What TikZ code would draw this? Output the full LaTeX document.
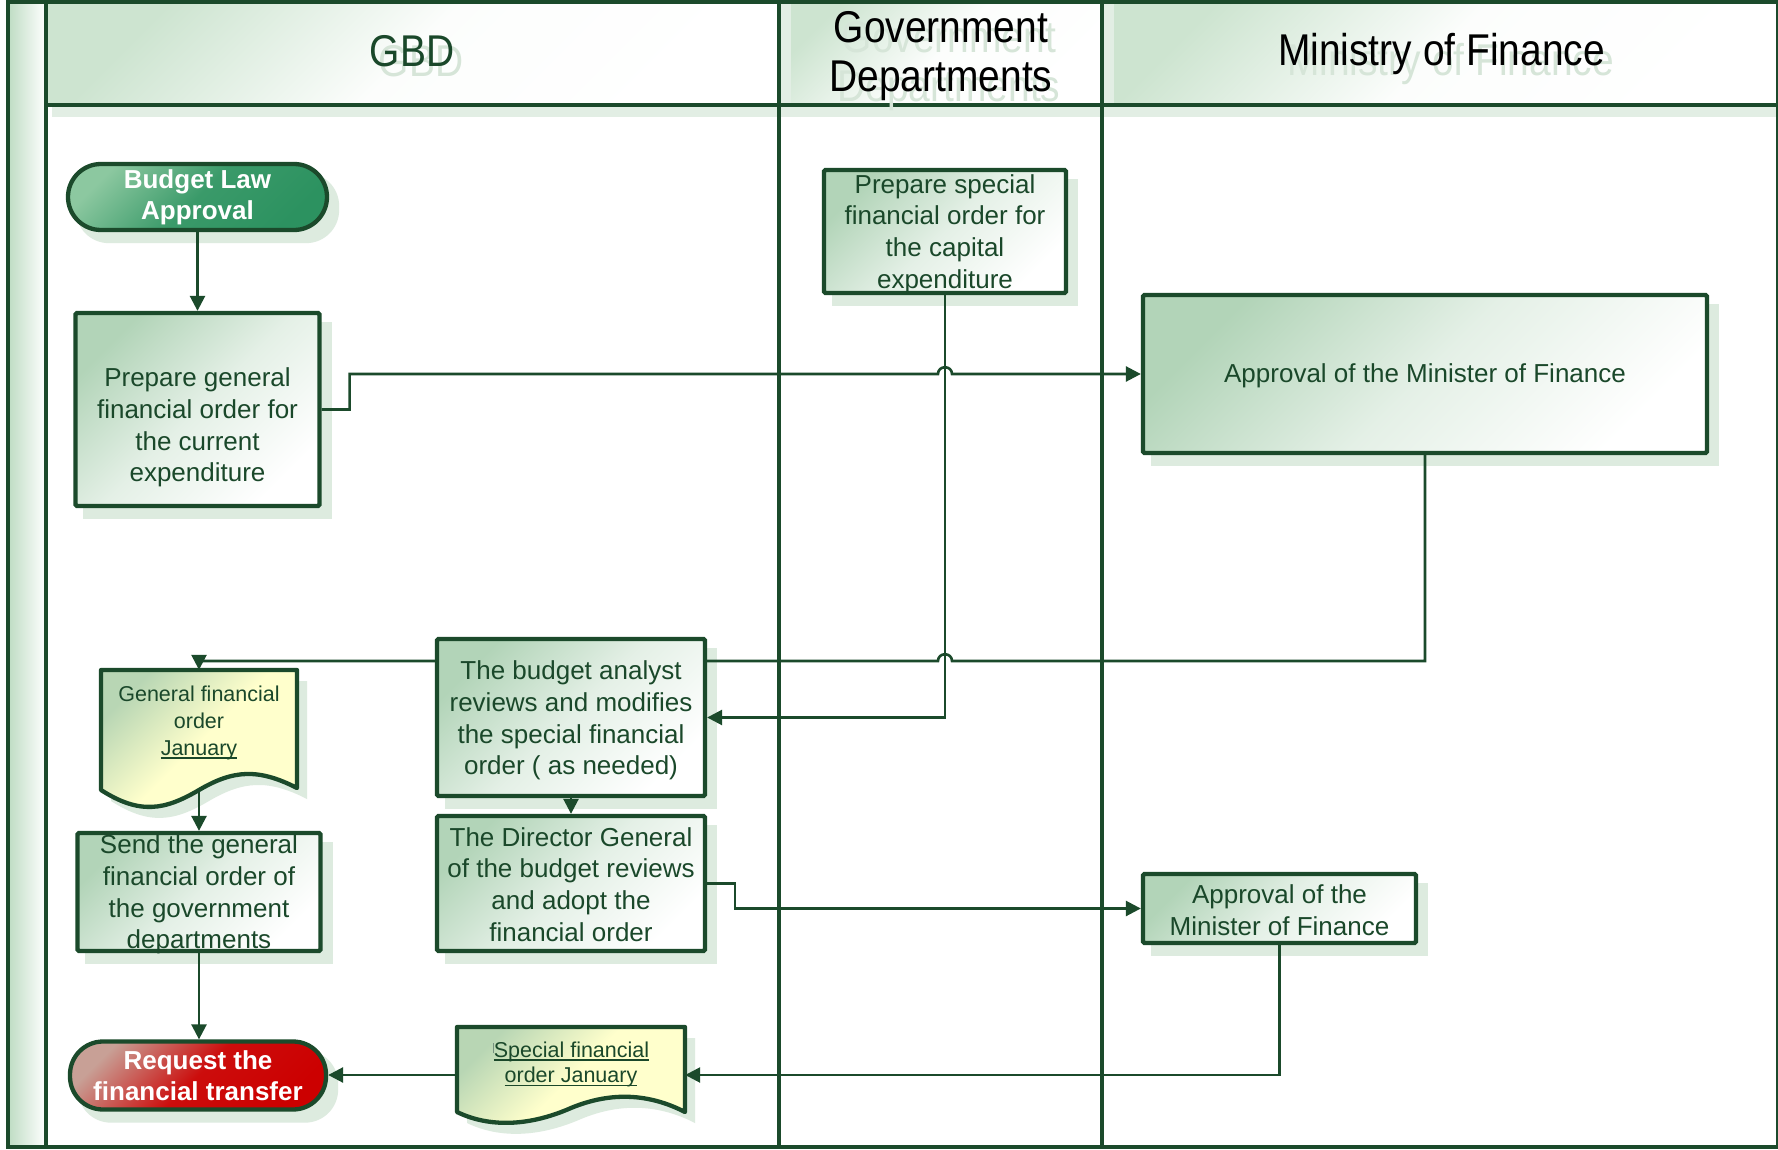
\documentclass[tikz,border=0pt]{standalone}
\usepackage{fontspec}
\setmainfont{Liberation Sans}
\newfontfamily\hdrfont{Liberation Sans}[FakeStretch=0.875]
\usetikzlibrary{arrows.meta,calc}
\definecolor{linec}{RGB}{27,74,43}
\definecolor{textc}{RGB}{26,72,42}
\definecolor{shadowc}{RGB}{221,235,223}
\definecolor{procg}{RGB}{178,212,184}
\definecolor{hdrg}{RGB}{205,228,208}
\definecolor{ghostc}{RGB}{214,229,216}
\definecolor{docg}{RGB}{184,214,180}
\definecolor{docy}{RGB}{255,255,204}
\definecolor{startl}{RGB}{140,200,160}
\definecolor{startd}{RGB}{44,146,96}
\definecolor{endl}{RGB}{200,160,150}
\definecolor{endd}{RGB}{204,0,0}
\definecolor{stripc}{RGB}{190,220,195}
\pgfdeclarelayer{back}
\pgfdeclarelayer{shadowlayer}
\pgfdeclarelayer{connlayer}
\pgfsetlayers{back,shadowlayer,connlayer,main}
\newcommand\myul[1]{\setbox0\hbox{#1}\rlap{\rule[-3.5pt]{\wd0}{1.4pt}}\box0}
\tikzset{
  proc/.style={draw=linec, line width=4.3pt, rounded corners=1.5pt, inner sep=0pt,
    top color=procg, bottom color=white, middle color=procg!35!white, shading angle=45},
  ptext/.style={text=textc, font=\fontsize{26}{31.8}\selectfont, align=center, inner sep=0pt},
  term/.style={draw=linec, line width=4.3pt, rounded corners=33pt, inner sep=0pt,
    text=white, font=\bfseries\fontsize{26}{31}\selectfont, align=center},
  docshape/.style={draw=linec, line width=4.3pt, line join=round,
    top color=docg, bottom color=docy, middle color=docy, shading angle=45},
  doctext/.style={text=textc, align=center, inner sep=0pt, font=\fontsize{21.5}{27}\selectfont},
  conn/.style={draw=linec, line width=2.6pt, -{Triangle[length=15pt,width=15pt]}},
  frame/.style={draw=linec, line width=4.5pt},
  hdr/.style={font=\hdrfont\fontsize{44.5}{49}\selectfont, align=center, inner sep=0pt},
  ghost/.style={hdr, text=ghostc},
  hdrfill/.style={top color=hdrg, bottom color=white, middle color=white!94!hdrg, shading angle=45},
}
\begin{document}
\begin{tikzpicture}[x=1pt, y=-1pt]
\useasboundingbox (0,0) rectangle (1778,1150);
% ---------- nodes ----------
\node[term, minimum width=259pt, minimum height=66pt,
  top color=startl, bottom color=startd, middle color=startd!85!startl, shading angle=45]
  (bla) at (197.5,197) {Budget Law\\Approval};
\node[proc, minimum width=244pt, minimum height=193pt,
  label={[name=pgt, ptext, yshift=-18pt]center:{Prepare general\\financial order for\\the current\\expenditure}}]
  (pg) at (197.5,409.5) {};
\node[proc, minimum width=242pt, minimum height=123pt,
  label={[name=pst, ptext, yshift=-2.5pt]center:{Prepare special\\financial order for\\the capital\\expenditure}}]
  (ps) at (945,231.5) {};
\node[proc, minimum width=564pt, minimum height=158pt,
  label={[name=abigt, ptext, yshift=-1.5pt]center:{Approval of the Minister of Finance}}]
  (abig) at (1425,374) {};
\node[proc, minimum width=268pt, minimum height=157pt,
  label={[name=bat, ptext, yshift=-3pt]center:{The budget analyst\\reviews and modifies\\the special financial\\order ( as needed)}}]
  (ba) at (571,717.5) {};
\node[proc, minimum width=268pt, minimum height=135pt,
  label={[name=dgt, ptext, yshift=-1pt]center:{The Director General\\of the budget reviews\\and adopt the\\financial order}}]
  (dg) at (571,883.5) {};
\node[proc, minimum width=243pt, minimum height=118pt,
  label={[name=sgt, ptext, yshift=-2.5pt]center:{Send the general\\financial order of\\the government\\departments}}]
  (sg) at (199,892) {};
\node[term, minimum width=256pt, minimum height=68pt,
  top color=endl, bottom color=endd, middle color=endd!92!endl, shading angle=45]
  (req) at (198,1075.5) {Request the\\financial transfer};
\node[proc, minimum width=273pt, minimum height=69pt,
  label={[name=asmt, ptext, yshift=-1.5pt]center:{Approval of the\\Minister of Finance}}]
  (asm) at (1279.5,908.5) {};
% documents
\node[minimum width=196pt, minimum height=135pt, inner sep=0pt] (gd) at (199,737.5) {};
\draw[docshape] (101,670) -- (297,670) -- (297,788) .. controls (258,768) and (233,770) .. (199,790)
  .. controls (165,810) and (140,815) .. (101,790) -- cycle;
\node[doctext] (gdt) at (199,722.5) {General financial\\order\\\myul{January}};
\node[minimum width=228pt, minimum height=96pt, inner sep=0pt] (sd) at (571,1075) {};
\draw[docshape] (457,1027) -- (685,1027) -- (685,1112) .. controls (650,1094) and (612,1091) .. (571,1108)
  .. controls (530,1126) and (490,1128) .. (457,1112) -- cycle;
\node[doctext, font=\fontsize{21.5}{25.5}\selectfont] (sdt) at (571,1064.5)
  {{\color{textc!60!white}\rule[4pt]{1pt}{10pt}}\myul{Special financial}\\\myul{order January}};
% ---------- header texts ----------
\node[ghost] (g1) at (421,61) {GBD};
\node[ghost] (g2) at (949,66) {Government\\Departments};
\node[ghost] (g3) at (1450.5,64) {Ministry of Finance};
\node[hdr, text=textc] (h1) at (412,51) {GBD};
\node[hdr, text=black] (h2) at (941,56) {Government\\Departments};
\node[hdr, text=black] (h3) at (1441.5,54) {Ministry of Finance};
% ---------- shadows ----------
\begin{pgfonlayer}{shadowlayer}
\foreach \n in {pg,ps,abig,ba,dg,sg,asm}
  \fill[shadowc] ([shift={(10,11)}]\n.north west) rectangle ([shift={(10,11)}]\n.south east);
\foreach \n in {bla,req}
  \fill[shadowc, rounded corners=33pt] ([shift={(10,11)}]\n.north west) rectangle ([shift={(10,11)}]\n.south east);
\fill[shadowc, shift={(10,11)}] (101,670) -- (297,670) -- (297,788) .. controls (258,768) and (233,770) .. (199,790)
  .. controls (165,810) and (140,815) .. (101,790) -- cycle;
\fill[shadowc, shift={(10,11)}] (457,1027) -- (685,1027) -- (685,1112) .. controls (650,1094) and (612,1091) .. (571,1108)
  .. controls (530,1126) and (490,1128) .. (457,1112) -- cycle;
\end{pgfonlayer}
% ---------- connectors ----------
\begin{pgfonlayer}{connlayer}
\draw[conn] (bla.south) -- (bla.south |- pg.north);
\draw[conn] (pg.east) -- ++(28,0) |- (938,374) .. controls (938,365) and (952,365) .. (952,374) -- (abig.west);
\draw[conn] (ps.south) |- (ba.east);
\draw[conn] (abig.south) |- (952,661) .. controls (952,652) and (938,652) .. (938,661) -| (gd.north);
\draw[conn] (gd.center) -- (gd.center |- sg.north);
\draw[conn] (sg.south) -- (sg.south |- req.north);
\draw[conn] (ba.south) -- (dg.north);
\draw[conn] (dg.east) -- ++(28,0) |- (asm.west);
\draw[conn] (asm.south) |- (sd.east);
\draw[conn] (sd.west) -- (sd.west -| req.east);
\end{pgfonlayer}
% ---------- frame ----------
\begin{pgfonlayer}{back}
\fill[white] (0,0) rectangle (1778,1150);
\shade[left color=stripc, right color=white] (8,2) rectangle (46,1147);
\shade[hdrfill] (46,2) rectangle (779,105);
\shade[hdrfill] (779,2) rectangle (1102,105);
\shade[hdrfill] (1102,2) rectangle (1777,105);
\fill[shadowc!85!white] (52,107) rectangle (1777,117);
\fill[shadowc!85!white] (781,4) rectangle (791,117);
\fill[shadowc!85!white] (1104,4) rectangle (1114,117);
\draw[frame] (6,2) -- (1778,2);
\draw[frame] (6,1147) -- (1778,1147);
\draw[frame] (8,0) -- (8,1149);
\draw[frame] (46,0) -- (46,1149);
\draw[frame] (779,0) -- (779,1149);
\draw[frame] (1102,0) -- (1102,1149);
\draw[frame] (44,105) -- (1778,105);
\draw[draw=linec, line width=1.5pt] (1777,0) -- (1777,1149);
\end{pgfonlayer}
\end{tikzpicture}
\end{document}
